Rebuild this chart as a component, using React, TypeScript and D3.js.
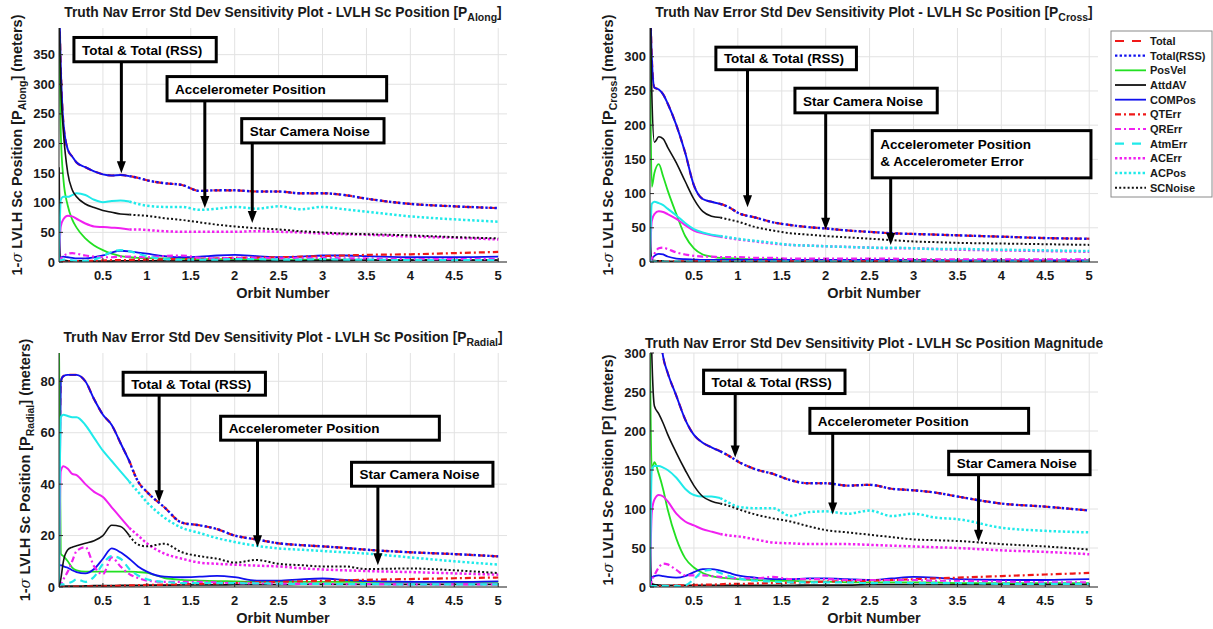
import React from 'react';
import * as d3 from 'd3';

// orbit sample points shared by every series
const orbit = [0, 0.02, 0.05, 0.1, 0.15, 0.2, 0.3, 0.4, 0.5, 0.6, 0.7, 0.8, 0.9, 1.0, 1.2, 1.4, 1.6, 1.8, 2.0, 2.25, 2.5, 2.75, 3.0, 3.25, 3.5, 4.0, 4.5, 5.0];

// P Along
const alongTotal = [450, 330, 235, 190, 178, 168, 160, 153, 148, 146, 147, 145, 142, 138, 133, 130, 120, 121, 121, 119, 119, 116, 116, 113, 107, 98, 94, 91];
const alongPosVel = [400, 220, 140, 95, 72, 58, 40, 28, 20, 14, 10, 8, 7, 6.5, 6, 5.5, 5, 5, 4.5, 4.5, 4, 4, 4, 4, 3.5, 3.5, 3, 3];
const alongAttdAV = [160, 4, 3, 2, 2, 2, 1.5, 1.5, 1.5, 1.5, 2, 2, 2, 2, 2, 2, 2, 2, 2, 2, 2, 2, 2.5, 2.5, 3, 3, 3, 3];
const alongCOMPos = [0, 8, 9, 8, 7, 6, 6, 8, 11, 16, 19, 18, 16, 14, 10, 8, 9, 11, 12, 10, 8, 9, 11, 11, 10, 8, 8, 9];
const alongQTErr = [0, 0.5, 1, 1, 1, 1.5, 2, 2, 2.5, 3, 3, 3.5, 4, 4, 4.5, 5, 5.5, 6, 7, 7.5, 8, 9, 10, 11, 12, 13, 15, 17];
const alongQRErr = [0, 5, 10, 14, 15, 14, 11, 9, 8, 8, 9, 9, 8.5, 8, 10, 11, 7, 6, 7, 7, 6, 7, 7, 6, 6, 5, 5, 5];
const alongAtmErr = [0, 3, 4, 4, 3, 2, 2, 4, 10, 17, 20, 18, 14, 10, 5, 4, 4, 4, 5, 5, 4, 4, 5, 4, 4, 3, 3, 3];
const alongACErr = [0, 60, 72, 78, 77, 73, 65, 60, 59, 58, 57, 55, 55, 54, 52, 51, 51, 51, 51, 52, 51, 50, 48, 47, 46, 43, 41, 38];
const alongACPos = [0, 105, 110, 110, 113, 116, 113, 105, 101, 103, 104, 102, 98, 95, 93, 93, 88, 90, 93, 90, 94, 89, 93, 89, 85, 77, 72, 68];
const alongSCNoise = [420, 300, 220, 150, 122, 110, 98, 92, 87, 84, 81, 80, 79, 78, 74, 71, 67, 63, 60, 57, 55, 52, 50, 48, 47, 45, 42, 40];

// P Cross
const crossTotal = [400, 300, 255, 252, 245, 232, 200, 160, 112, 92, 88, 85, 80, 72, 65, 58, 54, 51, 49, 46, 44, 42, 41, 40, 39, 37, 35, 34];
const crossPosVel = [340, 110, 130, 143, 125, 105, 70, 38, 20, 11, 8, 6, 5.5, 5, 4, 4, 3, 3, 3, 3, 3, 3, 3, 3, 2, 2, 2, 2];
const crossAttdAV = [60, 3, 2, 1.5, 1.5, 1, 1, 1, 1, 1, 1, 1, 1, 1, 1, 1, 1, 1, 1, 1, 1, 1, 1, 1, 1, 1, 1, 1];
const crossCOMPos = [0, 4, 9, 12, 11, 8, 5, 4, 3.5, 3, 3, 3, 3, 3, 3, 3, 3, 3, 3, 3, 3, 3, 2.5, 2.5, 2.5, 2.5, 2.5, 2.5];
const crossQTErr = [0, 0.5, 1, 1, 1, 1, 1, 1, 1, 1, 1, 1, 1, 1, 1, 1, 1, 1, 1, 1, 1, 1, 1, 1, 1, 1, 1, 1];
const crossQRErr = [0, 5, 12, 20, 21, 19, 14, 11, 9, 8, 8, 7, 7, 7, 6, 6, 5, 5, 5, 5, 5, 5, 4, 4, 4, 4, 4, 4];
const crossAtmErr = [0, 0.5, 0.5, 0.5, 0.5, 0.5, 0.5, 0.5, 0.5, 0.5, 0.5, 0.5, 0.5, 0.5, 0.5, 0.5, 0.5, 0.5, 0.5, 0.5, 0.5, 0.5, 0.5, 0.5, 0.5, 0.5, 0.5, 0.5];
const crossACErr = [0, 60, 70, 74, 73, 70, 63, 54, 46, 42, 39, 37, 35, 33, 30, 27, 25, 24, 23, 22, 21, 20, 20, 19, 18, 17, 16, 15];
const crossACPos = [0, 85, 88, 86, 83, 78, 68, 57, 48, 43, 40, 38, 36, 34, 31, 28, 25, 24, 23, 22, 21, 21, 20, 19, 19, 18, 17, 16];
const crossSCNoise = [400, 250, 175, 183, 180, 168, 145, 118, 92, 74, 67, 65, 62, 59, 51, 46, 42, 40, 38, 36, 34, 32, 30, 29, 28, 27, 26, 25];

// P Radial
const radialTotal = [10, 80, 82, 82.5, 82.5, 82.5, 80, 73, 67, 63, 56, 49, 41, 37, 31, 25, 24, 22.5, 20, 18.5, 17, 16.3, 15.8, 15.2, 14.5, 13.5, 12.8, 11.9];
const radialPosVel = [95, 13, 12, 10, 7.5, 6.5, 6, 6, 6, 6, 6, 6, 5.8, 5.5, 3.5, 2.8, 2.5, 2.3, 2.2, 2, 2, 2, 2, 2, 2, 2, 2, 2];
const radialAttdAV = [1, 0.5, 0.3, 0.3, 0.3, 0.3, 0.4, 0.5, 0.5, 0.5, 0.6, 0.6, 0.6, 0.7, 0.7, 0.8, 0.8, 0.8, 0.9, 0.9, 0.9, 1, 1, 1, 1, 1, 1, 1];
const radialCOMPos = [8, 8.5, 8, 7.5, 6.5, 5.8, 5.3, 7, 11, 15, 13.5, 11, 8, 6, 4, 3.8, 4, 4.3, 3.8, 2.5, 2.5, 3, 3.3, 2.8, 2.3, 2, 2, 2.2];
const radialQTErr = [0, 0, 0.1, 0.1, 0.1, 0.2, 0.2, 0.3, 0.3, 0.4, 0.5, 0.6, 0.7, 0.8, 0.9, 1.1, 1.2, 1.4, 1.6, 1.8, 2.0, 2.2, 2.4, 2.6, 2.8, 3.1, 3.4, 3.7];
const radialQRErr = [0, 1, 3, 6, 10, 14, 15.5, 8, 5, 11.5, 8, 5, 3.5, 2.5, 2, 2, 2, 1.8, 1.5, 1.4, 1.3, 1.2, 1.2, 1.1, 1.1, 1, 1, 1];
const radialAtmErr = [0, 1, 1, 1.5, 2, 3, 2, 4, 9, 12, 11, 7, 4.5, 3, 2, 1.5, 1.5, 1.5, 1.5, 1.4, 1.3, 1.2, 1.2, 1.1, 1.1, 1, 1, 1];
const radialACErr = [0, 45, 47, 46, 44, 43.5, 40, 37, 35, 31, 27, 23, 20, 17, 13, 11, 9.5, 9, 8.7, 8.3, 8, 7.3, 6.8, 6.5, 6.2, 5.8, 5.3, 4.8];
const radialACPos = [0, 66, 67, 66.5, 66, 66, 63, 58, 53, 49, 45, 41, 37, 33, 27, 23, 21, 19, 17.5, 16, 15, 14.5, 14, 13.5, 13, 11.5, 10, 8.7];
const radialSCNoise = [0, 3, 10, 14.5, 15.5, 16, 17, 18, 20, 24, 23.5, 20, 16.5, 15.8, 16.8, 13.5, 12, 11, 9.5, 10.5, 9, 8.5, 8, 8, 7, 7.2, 6.5, 5.4];

// P Magnitude
const magTotal = [600, 520, 420, 340, 295, 275, 245, 215, 195, 185, 179, 174, 168, 161, 151, 145, 137, 133, 133, 130, 131, 126, 124, 121, 116, 107, 103, 98];
const magPosVel = [300, 150, 160, 145, 125, 100, 62, 37, 25, 18, 14, 12, 11, 10, 9, 8, 8, 7, 7, 6, 6, 6, 6, 6, 5, 5, 5, 5];
const magAttdAV = [70, 4, 3, 2.5, 2, 2, 2, 2, 2, 2, 2, 2, 2, 2, 2, 2, 2, 2.5, 2.5, 2.5, 3, 3, 3, 3, 3, 3, 3, 3];
const magCOMPos = [5, 12, 14, 15, 14, 13, 12, 14, 19, 23, 23, 21, 18, 15, 12, 10, 10, 11, 11, 10, 9, 11, 13, 12, 10, 9, 9, 10];
const magQTErr = [0, 0.5, 1, 1, 1, 1.5, 2, 2, 2.5, 3, 3, 3.5, 4, 4, 4.5, 5, 5.5, 6, 7, 7.5, 8, 9, 10, 11, 12, 14, 16, 18];
const magQRErr = [0, 8, 15, 25, 30, 29, 22, 15, 15, 15, 14, 13, 12, 11, 11, 13, 10, 10, 10, 9, 9, 9, 9, 8, 8, 7, 6, 6];
const magAtmErr = [0, 1, 1, 1, 1, 1, 1, 2, 10, 20, 22, 18, 14, 11, 8, 7, 6, 6, 6, 6, 5, 6, 5, 5, 5, 4, 4, 4];
const magACErr = [0, 95, 112, 118, 116, 110, 94, 84, 79, 74, 71, 68, 66, 65, 61, 57, 56, 55, 55, 55, 54, 53, 52, 51, 50, 47, 45, 42];
const magACPos = [0, 150, 155, 155, 153, 150, 140, 126, 118, 116, 116, 114, 108, 103, 101, 101, 91, 96, 97, 94, 98, 91, 94, 89, 87, 76, 72, 70];
const magSCNoise = [400, 300, 232, 222, 210, 196, 172, 150, 130, 116, 110, 107, 104, 100, 93, 88, 84, 78, 73, 70, 67, 64, 61, 60, 59, 55, 52, 48];

const seriesNames = ['Total', 'Total(RSS)', 'PosVel', 'AttdAV', 'COMPos', 'QTErr', 'QRErr', 'AtmErr', 'ACErr', 'ACPos', 'SCNoise'];

// text callouts, in data units (orbit, meters)
const alongNotes = [
  { lines: ['Total & Total (RSS)'], x0: 0.17, x1: 1.79, y0: 379, y1: 338, ax: 0.71, ay: 150 },
  { lines: ['Accelerometer Position'], x0: 1.23, x1: 3.73, y0: 313, y1: 272, ax: 1.66, ay: 91 },
  { lines: ['Star Camera Noise'], x0: 2.08, x1: 3.7, y0: 242, y1: 201, ax: 2.2, ay: 66 },
];
const crossNotes = [
  { lines: ['Total & Total (RSS)'], x0: 0.75, x1: 2.35, y0: 314, y1: 281, ax: 1.11, ay: 80 },
  { lines: ['Star Camera Noise'], x0: 1.65, x1: 3.27, y0: 254, y1: 218, ax: 2.0, ay: 47 },
  { lines: ['Accelerometer Position', '& Accelerometer Error'], x0: 2.53, x1: 5.02, y0: 192, y1: 123, ax: 2.74, ay: 25 },
];
const radialNotes = [
  { lines: ['Total & Total (RSS)'], x0: 0.73, x1: 2.35, y0: 83.5, y1: 74.6, ax: 1.14, ay: 33 },
  { lines: ['Accelerometer Position'], x0: 1.84, x1: 4.33, y0: 66.4, y1: 57.1, ax: 2.26, ay: 15.5 },
  { lines: ['Star Camera Noise'], x0: 3.33, x1: 4.94, y0: 48.5, y1: 39.2, ax: 3.63, ay: 8.5 },
];
const magNotes = [
  { lines: ['Total & Total (RSS)'], x0: 0.61, x1: 2.22, y0: 278, y1: 248, ax: 0.97, ay: 166 },
  { lines: ['Accelerometer Position'], x0: 1.82, x1: 4.31, y0: 229, y1: 197, ax: 2.08, ay: 93 },
  { lines: ['Star Camera Noise'], x0: 3.4, x1: 5.01, y0: 174, y1: 144, ax: 3.74, ay: 58 },
];

const styles = {
  'Total': { color: '#f01818', dash: '7 5', width: 2.2, dense: false },
  'Total(RSS)': { color: '#1010ee', dash: '2.4 2.2', width: 2.4, dense: true },
  'PosVel': { color: '#22e022', dash: null, width: 1.8, dense: false },
  'AttdAV': { color: '#111', dash: null, width: 1.8, dense: false },
  'COMPos': { color: '#1010ee', dash: null, width: 1.8, dense: false },
  'QTErr': { color: '#f01818', dash: '6 3 2 3', width: 2.2, dense: false },
  'QRErr': { color: '#f020f0', dash: '6 3 2 3', width: 2.2, dense: false },
  'AtmErr': { color: '#20eaea', dash: '7 5', width: 2.2, dense: false },
  'ACErr': { color: '#f020f0', dash: '2.4 2.2', width: 2.5, dense: true },
  'ACPos': { color: '#20eaea', dash: '2.4 2.2', width: 2.5, dense: true },
  'SCNoise': { color: '#111', dash: '2 2.2', width: 2, dense: true },
};

const FONT = '"Liberation Sans", Arial, Helvetica, sans-serif';
const DENSE_UNTIL = 0.8; // early samples are so dense that dotted lines render solid

const panels = [
  { id: 'along', left: 59, top: 28, yMax: 395, yTop: 350, yStep: 50, sub: 'Along', notes: alongNotes,
    values: [alongTotal, alongTotal, alongPosVel, alongAttdAV, alongCOMPos, alongQTErr, alongQRErr, alongAtmErr, alongACErr, alongACPos, alongSCNoise] },
  { id: 'cross', left: 650, top: 28, yMax: 342, yTop: 300, yStep: 50, sub: 'Cross', notes: crossNotes,
    values: [crossTotal, crossTotal, crossPosVel, crossAttdAV, crossCOMPos, crossQTErr, crossQRErr, crossAtmErr, crossACErr, crossACPos, crossSCNoise] },
  { id: 'radial', left: 59, top: 353, yMax: 91, yTop: 80, yStep: 20, sub: 'Radial', notes: radialNotes,
    values: [radialTotal, radialTotal, radialPosVel, radialAttdAV, radialCOMPos, radialQTErr, radialQRErr, radialAtmErr, radialACErr, radialACPos, radialSCNoise] },
  { id: 'mag', left: 650, top: 353, yMax: 300, yTop: 300, yStep: 50, sub: null, notes: magNotes,
    values: [magTotal, magTotal, magPosVel, magAttdAV, magCOMPos, magQTErr, magQRErr, magAtmErr, magACErr, magACPos, magSCNoise] },
];

const W = 448;
const H = 234;

function Panel({ p }) {
  const x = d3.scaleLinear().domain([0, 5.1]).range([p.left, p.left + W]);
  const y = d3.scaleLinear().domain([0, p.yMax]).range([p.top + H, p.top]);
  const line = d3.line().x(d => x(d[0])).y(d => y(d[1])).curve(d3.curveMonotoneX);
  const xTicks = d3.range(0.5, 5.01, 0.5);
  const yTicks = d3.range(0, p.yTop + 0.01, p.yStep);
  const bottom = p.top + H;
  const cx = p.left + W / 2;
  const digits = String(p.yTop).length;
  const ylx = p.left - digits * 7.2 - 20 + 5;
  const ylY = p.top + H / 2;

  const curves = [];
  seriesNames.forEach((name, k) => {
    const st = styles[name];
    const pts = orbit.map((o, i) => [o, p.values[k][i]]);
    if (st.dense) {
      curves.push({ key: name + 'a', d: line(pts.filter(q => q[0] <= DENSE_UNTIL)), st, dash: null, w: st.width * 0.8 });
      curves.push({ key: name + 'b', d: line(pts.filter(q => q[0] >= DENSE_UNTIL)), st, dash: st.dash, w: st.width });
    } else {
      curves.push({ key: name, d: line(pts), st, dash: st.dash, w: st.width });
    }
  });

  return (
    <g>
      <defs>
        <clipPath id={'clip-' + p.id}>
          <rect x={p.left} y={p.top} width={W} height={H} />
        </clipPath>
      </defs>
      {yTicks.map(t => (
        <line key={'gy' + t} x1={p.left} x2={p.left + W} y1={y(t)} y2={y(t)} stroke="#e2e2e2" strokeWidth={1} />
      ))}
      {xTicks.map(t => (
        <line key={'gx' + t} x1={x(t)} x2={x(t)} y1={p.top} y2={bottom} stroke="#e2e2e2" strokeWidth={1} />
      ))}
      <g clipPath={'url(#clip-' + p.id + ')'}>
        {curves.map(c => (
          <path key={c.key} d={c.d} fill="none" stroke={c.st.color} strokeWidth={c.w}
            strokeDasharray={c.dash || undefined} strokeLinejoin="round" />
        ))}
      </g>
      {/* axes */}
      <line x1={p.left} x2={p.left + W} y1={bottom} y2={bottom} stroke="#262626" strokeWidth={1} />
      <line x1={p.left} x2={p.left} y1={p.top} y2={bottom} stroke="#262626" strokeWidth={1} />
      {xTicks.map(t => (
        <g key={'xt' + t}>
          <line x1={x(t)} x2={x(t)} y1={bottom} y2={bottom - 4} stroke="#262626" />
          <text x={x(t)} y={bottom + 18} textAnchor="middle" fontSize={13} fontWeight="bold" fontFamily={FONT} fill="#1a1a1a">{String(t)}</text>
        </g>
      ))}
      {yTicks.map(t => (
        <g key={'yt' + t}>
          <line x1={p.left} x2={p.left + 4} y1={y(t)} y2={y(t)} stroke="#262626" />
          <text x={p.left - 4} y={y(t) + 4.5} textAnchor="end" fontSize={13} fontWeight="bold" fontFamily={FONT} fill="#1a1a1a">{String(t)}</text>
        </g>
      ))}
      <text x={cx} y={bottom + 36} textAnchor="middle" fontSize={14.5} fontWeight="bold" fontFamily={FONT} fill="#1a1a1a">Orbit Number</text>
      {/* y label */}
      <text transform={`translate(${ylx},${ylY}) rotate(-90)`} textAnchor="middle" fontSize={14.5} fontWeight="bold" fontFamily={FONT} fill="#1a1a1a">
        <tspan>1-</tspan>
        <tspan fontStyle="italic" fontWeight="normal" fontFamily="'DejaVu Serif', serif">σ</tspan>
        <tspan> LVLH Sc Position [P</tspan>
        {p.sub ? <tspan dy={4} fontSize={10.5}>{p.sub}</tspan> : null}
        <tspan dy={p.sub ? -4 : 0}>] (meters)</tspan>
      </text>
      {/* title */}
      <text x={cx} y={p.top - (p.sub ? 11 : 5)} textAnchor="middle" fontSize={13.8} fontWeight="bold" fontFamily={FONT} fill="#1a1a1a">
        <tspan>Truth Nav Error Std Dev Sensitivity Plot - LVLH Sc Position </tspan>
        {p.sub ? (
          <>
            <tspan>[P</tspan>
            <tspan dy={4} fontSize={10.5}>{p.sub}</tspan>
            <tspan dy={-4}>]</tspan>
          </>
        ) : <tspan>Magnitude</tspan>}
      </text>
      {/* callouts */}
      {p.notes.map((n, i) => {
        const bx = x(n.x0), by = y(n.y0), bw = x(n.x1) - x(n.x0), bh = y(n.y1) - y(n.y0);
        const axp = x(n.ax), tip = y(n.ay);
        return (
          <g key={'n' + i}>
            <line x1={axp} x2={axp} y1={by + bh} y2={tip - 9} stroke="#000" strokeWidth={3} />
            <path d={`M${axp},${tip} L${axp - 4.5},${tip - 12} L${axp + 4.5},${tip - 12} Z`} fill="#000" />
            <rect x={bx} y={by} width={bw} height={bh} fill="#fff" stroke="#000" strokeWidth={3} />
            {n.lines.map((s, j) => (
              <text key={j} x={bx + 8} y={by + (n.lines.length > 1 ? 18 + j * 17 : bh / 2 + 5)} fontSize={13.5} fontWeight="bold" fontFamily={FONT} fill="#000">{s}</text>
            ))}
          </g>
        );
      })}
    </g>
  );
}

function Legend() {
  const lx = 1111, ly = 31, step = 14.67;
  return (
    <g>
      <rect x={lx} y={ly} width={101} height={166} fill="#fff" stroke="#8a8a8a" strokeWidth={1} />
      {seriesNames.map((name, i) => {
        const st = styles[name];
        const yy = ly + 10 + i * step;
        return (
          <g key={name}>
            <line x1={lx + 4} x2={lx + 35} y1={yy} y2={yy} stroke={st.color} strokeWidth={st.width}
              strokeDasharray={name === 'Total' || name === 'AtmErr' ? '9 8' : (st.dash || undefined)} />
            <text x={lx + 39} y={yy + 4} fontSize={11} fontWeight="bold" fontFamily={FONT} fill="#1a1a1a">{name}</text>
          </g>
        );
      })}
    </g>
  );
}

export default function App() {
  return (
    <svg width={1213} height={629} style={{ position: 'absolute', left: 0, top: 0, background: '#fff' }}>
      <rect x={0} y={0} width={1213} height={629} fill="#fff" />
      {panels.map(p => <Panel key={p.id} p={p} />)}
      <Legend />
    </svg>
  );
}
